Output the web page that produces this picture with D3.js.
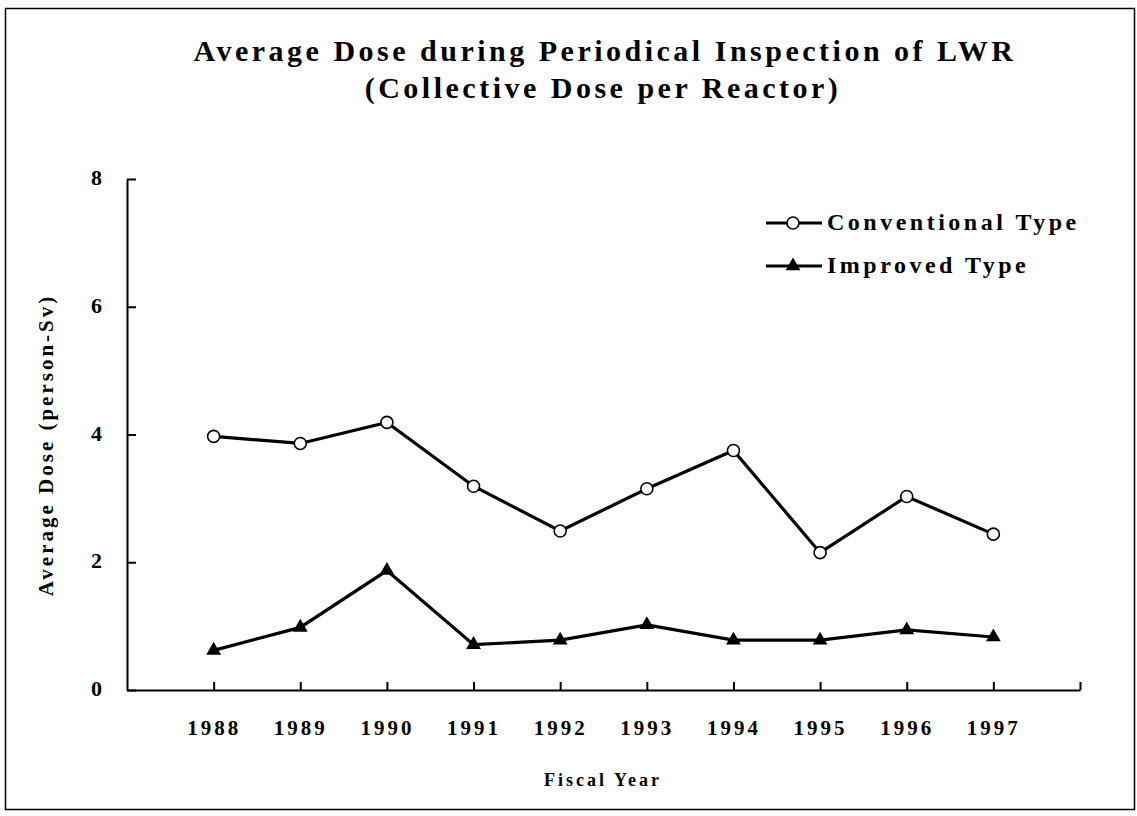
<!DOCTYPE html>
<html>
<head>
<meta charset="utf-8">
<script src="https://cdn.jsdelivr.net/npm/d3@7"></script>
<style>
  body { margin: 0; background: #fff; }
  svg text { font-family: "Times New Roman", "Liberation Serif", serif; font-weight: bold; fill: #000; }
</style>
</head>
<body>
<svg id="chart" width="1137" height="816"></svg>
<script>
// data
const years = [1988, 1989, 1990, 1991, 1992, 1993, 1994, 1995, 1996, 1997]
const conventional = [3.97, 3.86, 4.19, 3.19, 2.49, 3.15, 3.75, 2.15, 3.03, 2.44]
const improved = [0.62, 0.98, 1.87, 0.71, 0.78, 1.02, 0.78, 0.78, 0.94, 0.83]
const yTicks = [0, 2, 4, 6, 8]
const seriesNames = ['Conventional Type', 'Improved Type']

const svg = d3.select('#chart')

// outer frame
svg.append('rect')
    .attr('x', 5.5).attr('y', 8.5)
    .attr('width', 1129).attr('height', 801)
    .attr('fill', 'none').attr('stroke', '#000').attr('stroke-width', 1.5)

const x = d3.scaleLinear().domain([1987, 1998]).range([127, 1080])
const y = d3.scaleLinear().domain([0, 8]).range([690, 179])

// title
const title = svg.append('g').attr('font-size', 30).attr('letter-spacing', 3.5)
title.append('text').attr('x', 605).attr('y', 61).attr('text-anchor', 'middle')
    .text('Average Dose during Periodical Inspection of LWR')
title.append('text').attr('x', 603).attr('y', 98).attr('text-anchor', 'middle')
    .text('(Collective Dose per Reactor)')

// y axis
const yAxis = svg.append('g')
    .attr('transform', 'translate(127,0)')
    .call(d3.axisLeft(y).tickValues(yTicks).tickSize(-9).tickSizeOuter(0).tickPadding(25))
yAxis.selectAll('text').attr('font-size', 22).attr('dy', '0.25em')

// x axis
const xAxis = svg.append('g')
    .attr('transform', 'translate(0,690)')
    .call(d3.axisBottom(x)
        .tickValues(d3.range(1988, 1999))
        .tickFormat(d => d <= 1997 ? d : '')
        .tickSize(-8).tickSizeOuter(0).tickPadding(30))
xAxis.selectAll('text').attr('font-size', 21).attr('letter-spacing', 3)

svg.selectAll('.domain, .tick line').attr('stroke', '#000').attr('stroke-width', 2)

// axis titles
svg.append('text')
    .attr('transform', 'translate(53,445) rotate(-90)')
    .attr('text-anchor', 'middle').attr('font-size', 21).attr('letter-spacing', 3)
    .text('Average Dose (person-Sv)')
svg.append('text')
    .attr('x', 603).attr('y', 786).attr('text-anchor', 'middle')
    .attr('font-size', 18).attr('letter-spacing', 3)
    .text('Fiscal Year')

// lines
const line = d3.line().x(d => x(d[0])).y(d => y(d[1]))
const tri = d3.symbol().type(d3.symbolTriangle).size(95)

const convData = years.map((yr, i) => [yr, conventional[i]])
const impData = years.map((yr, i) => [yr, improved[i]])

svg.append('path').datum(convData).attr('d', line)
    .attr('fill', 'none').attr('stroke', '#000').attr('stroke-width', 3.2)
svg.append('path').datum(impData).attr('d', line)
    .attr('fill', 'none').attr('stroke', '#000').attr('stroke-width', 3.2)

svg.append('g').selectAll('circle')
    .data(convData)
    .enter().append('circle')
    .attr('cx', d => x(d[0])).attr('cy', d => y(d[1])).attr('r', 6)
    .attr('fill', '#fff').attr('stroke', '#000').attr('stroke-width', 1.6)

svg.append('g').selectAll('path')
    .data(impData)
    .enter().append('path')
    .attr('d', tri)
    .attr('transform', d => `translate(${x(d[0])},${y(d[1])})`)
    .attr('fill', '#000')

// legend
const legend = svg.append('g')
const legY = [223, 266]
legY.forEach((ly, i) => {
    legend.append('line').attr('x1', 766).attr('x2', 822).attr('y1', ly).attr('y2', ly)
        .attr('stroke', '#000').attr('stroke-width', 3.2)
    if (i == 0) {
        legend.append('circle').attr('cx', 793).attr('cy', ly).attr('r', 6)
            .attr('fill', '#fff').attr('stroke', '#000').attr('stroke-width', 1.6)
    } else {
        legend.append('path').attr('d', tri).attr('transform', `translate(793,${ly})`)
    }
    legend.append('text').attr('x', 827).attr('y', ly + 7)
        .attr('font-size', 24).attr('letter-spacing', 3.5)
        .text(seriesNames[i])
})
</script>
</body>
</html>
